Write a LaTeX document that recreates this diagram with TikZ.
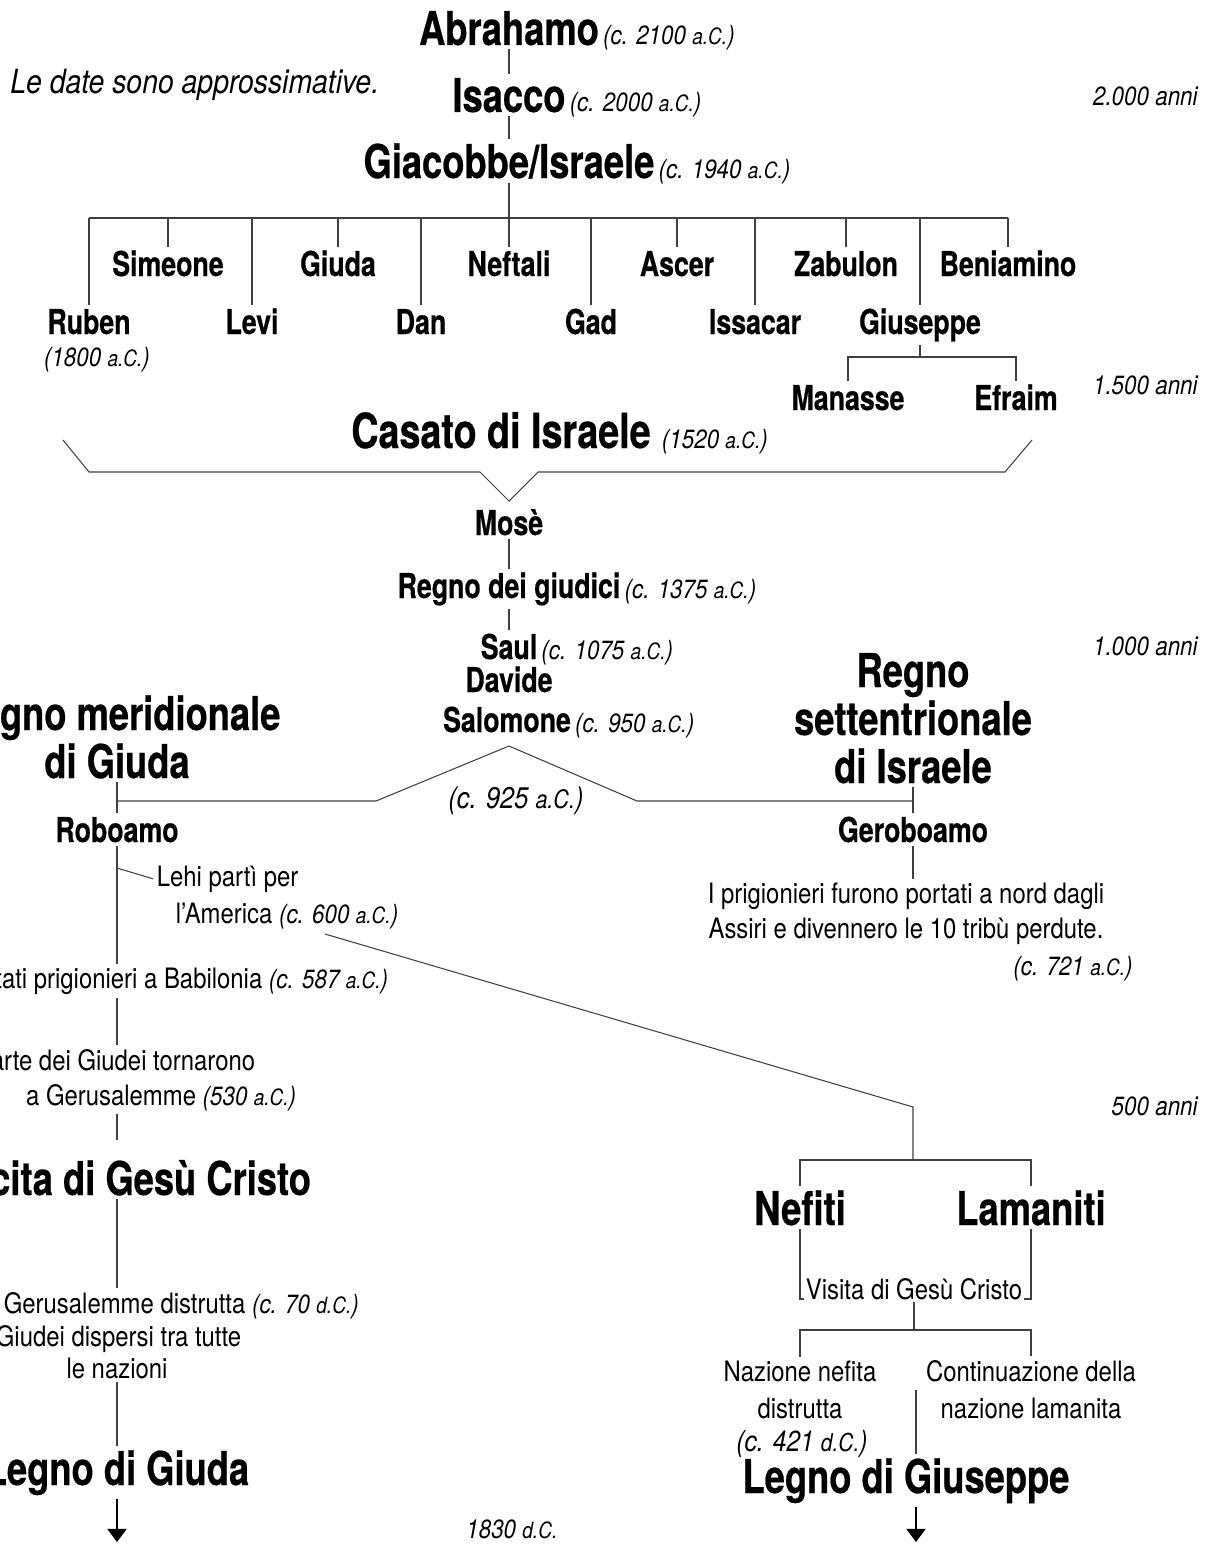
\documentclass[tikz,border=0pt]{standalone}
\usepackage{fontspec}
\setmainfont{TeX Gyre Heros}[FakeStretch=0.85,BoldFeatures={FakeStretch=0.78,FakeBold=0.5},BoldItalicFeatures={FakeStretch=0.78}]
\usetikzlibrary{arrows.meta}

\newcommand{\ac}[1]{\scalebox{0.85}{#1}}
\newcommand{\dtf}{\itshape\fontsize{15}{17}\selectfont}

\begin{document}
\begin{tikzpicture}[x=0.02cm, y=-0.02cm,
    big/.style={font=\bfseries\fontsize{26.5}{28}\selectfont, inner sep=2pt},
    mid/.style={font=\bfseries\fontsize{19.5}{22}\selectfont, inner sep=2pt},
    txt/.style={font=\fontsize{16}{19}\selectfont, inner sep=2pt},
    dat/.style={font=\dtf, inner sep=0pt, anchor=base west},
    yrs/.style={font=\dtf, inner sep=0pt, anchor=base east},
    ln/.style={draw=black!75, line width=0.6pt},
    arr/.style={draw=black, line width=0.6pt, -{Triangle[width=11pt,length=7.5pt]}}]
    \useasboundingbox (0,0) rectangle (1213,1548);

    % Patriarchs
    \node[big, anchor=base] (abr) at (509,45) {Abrahamo};
    \node[dat] (abrd) at (abr.base east) {(c. 2100 \ac{a.C.})};
    \node[big, anchor=base] (isa) at (509,112) {Isacco};
    \node[dat] (isad) at (isa.base east) {(c. 2000 \ac{a.C.})};
    \node[big, anchor=base] (jac) at (509,178) {Giacobbe/Israele};
    \node[dat] (jacd) at (jac.base east) {(c. 1940 \ac{a.C.})};
    \draw[ln] (abr) -- (isa);
    \draw[ln] (isa) -- (jac);

    \node[font=\itshape\fontsize{19}{22}\selectfont, anchor=base west, inner sep=0pt] (note) at (10,93) {Le date sono approssimative.};

    % Time scale
    \node[yrs] (y2000) at (1198,106) {2.000 anni};
    \node[yrs] (y1500) at (1198,394) {1.500 anni};
    \node[yrs] (y1000) at (1198,655) {1.000 anni};
    \node[yrs] (y500) at (1198,1115) {500 anni};
    \node[dat] (y1830) at (466,1538) {1830 \ac{d.C.}};

    % Twelve sons
    \coordinate (bar) at (0,218);
    \node[mid, anchor=base] (sim) at (168,276) {Simeone};
    \node[mid, anchor=base] (giuda) at (338,276) {Giuda};
    \node[mid, anchor=base] (neft) at (509,276) {Neftali};
    \node[mid, anchor=base] (asc) at (677,276) {Ascer};
    \node[mid, anchor=base] (zab) at (846,276) {Zabulon};
    \node[mid, anchor=base] (ben) at (1008,276) {Beniamino};
    \node[mid, anchor=base] (rub) at (89,334) {Ruben};
    \node[mid, anchor=base] (levi) at (252,334) {Levi};
    \node[mid, anchor=base] (dan) at (421,334) {Dan};
    \node[mid, anchor=base] (gad) at (591,334) {Gad};
    \node[mid, anchor=base] (iss) at (755,334) {Issacar};
    \node[mid, anchor=base] (gius) at (920,334) {Giuseppe};
    \node[font=\dtf, anchor=base, inner sep=0pt] (rubd) at (97,366) {(1800 \ac{a.C.})};
    \draw[ln] (jac) -- (jac |- bar);
    \draw[ln] (rub.north |- bar) -- (ben.north |- bar);
    \foreach \s in {rub,sim,levi,giuda,dan,neft,gad,asc,iss,zab,gius,ben}
        \draw[ln] (\s.north) -- (\s.north |- bar);

    % Sons of Joseph
    \coordinate (jbar) at (0,357);
    \node[mid, anchor=base] (man) at (848,410) {Manasse};
    \node[mid, anchor=base] (efr) at (1016,410) {Efraim};
    \draw[ln] (gius) -- (gius |- jbar);
    \draw[ln] (man.north) -- (man.north |- jbar) -- (efr.north |- jbar) -- (efr.north);

    % House of Israel
    \node[big, font=\bfseries\fontsize{27.5}{30}\selectfont, anchor=base] (cas) at (501,448) {Casato di Israele};
    \node[dat] (casd) at ([xshift=4pt]cas.base east) {(1520 \ac{a.C.})};
    \coordinate (apex) at (509,501);
    \draw[ln] (63,440) -- (89,472) -- (480,472) -- (apex) -- (538,472) -- (1005,472) -- (1032,440);

    % Judges and kings
    \node[mid, anchor=base] (mose) at (509,535) {Mosè};
    \node[mid, anchor=base] (giud) at (509,598) {Regno dei giudici};
    \node[dat] (giudd) at (giud.base east) {(c. 1375 \ac{a.C.})};
    \node[mid, anchor=base] (saul) at (509,659) {Saul};
    \node[dat] (sauld) at (saul.base east) {(c. 1075 \ac{a.C.})};
    \node[mid, anchor=base] (dav) at (509,692) {Davide};
    \node[mid, anchor=base] (salo) at (507,732) {Salomone};
    \node[dat] (salod) at (salo.base east) {(c. 950 \ac{a.C.})};
    \draw[ln] (mose) -- (giud);
    \draw[ln] (giud) -- (saul);

    % Divided kingdom
    \node[big, anchor=base] (merid1) at (117,730) {Regno meridionale};
    \node[big, anchor=base] (merid2) at (117,778) {di Giuda};
    \node[big, anchor=base] (sett1) at (913,687) {Regno};
    \node[big, anchor=base] (sett2) at (913,735) {settentrionale};
    \node[big, anchor=base] (sett3) at (913,783) {di Israele};
    \node[font=\itshape\fontsize{17}{19}\selectfont, anchor=base, inner sep=0pt] (split925) at (516,808) {(c. 925 \ac{a.C.})};
    \node[mid, anchor=base] (robo) at (117,842) {Roboamo};
    \node[mid, anchor=base] (gero) at (913,842) {Geroboamo};
    \coordinate (split) at (509,746);
    \coordinate (splitL) at (376,801);
    \coordinate (splitR) at (637,801);
    \draw[ln] (merid2) -- (robo);
    \draw[ln] (sett3) -- (gero);
    \draw[ln] (robo.north |- splitL) -- (splitL) -- (split) -- (splitR) -- (gero.north |- splitR);

    % Northern kingdom
    \node[txt, anchor=base] (prig1) at (906,903) {I prigionieri furono portati a nord dagli};
    \node[txt, anchor=base] (prig2) at (906,938) {Assiri e divennero le 10 tribù perdute.};
    \node[font=\dtf, anchor=base east, inner sep=0pt] (prigd) at (1133,975) {(c. 721 \ac{a.C.})};
    \draw[ln] (gero) -- (gero |- prig1.north);

    % Southern kingdom
    \coordinate (jx) at (117,0);
    \node[txt, anchor=base west] (lehi1) at (153,886) {Lehi partì per};
    \node[txt, anchor=base west] (lehi2) at (172,923) {l’America {\dtf (c. 600 \ac{a.C.})}};
    \coordinate (lroot) at (117,868);
    \draw[ln] (lroot) -- (lehi1.west);
    \node[txt, anchor=base east] (babil) at (392,988) {Portati prigionieri a Babilonia {\dtf (c. 587 \ac{a.C.})}};
    \node[txt, anchor=base east] (parte1) at (259,1070) {Parte dei Giudei tornarono};
    \node[txt, anchor=base east] (parte2) at (300,1105) {a Gerusalemme {\dtf (530 \ac{a.C.})}};
    \node[big, anchor=base] (nasc) at (117,1195) {Nascita di Gesù Cristo};
    \node[txt, anchor=base west] (geru1) at (0,1313) {Gerusalemme distrutta {\dtf (c. 70 \ac{d.C.})}};
    \node[txt, anchor=base west] (geru2) at (-8,1346) {Giudei dispersi tra tutte};
    \node[txt, anchor=base] (geru3) at (117,1378) {le nazioni};
    \node[big, anchor=base] (legJ) at (117,1485) {Legno di Giuda};
    \coordinate (tipJ) at (117,1542);
    \draw[ln] (robo) -- (jx |- babil.north);
    \draw[ln] (jx |- babil.south) -- (jx |- parte1.north);
    \draw[ln, shorten >=9pt] (jx |- parte2.south) -- (jx |- nasc.north);
    \draw[ln] (jx |- nasc.south) -- (jx |- geru1.north);
    \draw[ln] (geru3) -- (legJ);
    \draw[arr] (legJ) -- (tipJ);

    % Lehi's journey
    \coordinate (amer) at (325,934);
    \coordinate (turn) at (913,1107);
    \coordinate (nlbar) at (0,1160);
    \node[big, anchor=base] (nefi) at (800,1225) {Nefiti};
    \node[big, anchor=base] (lama) at (1031,1225) {Lamaniti};
    \draw[ln] (amer) -- (turn) -- (turn |- nlbar);
    \draw[ln] (nefi.north) -- (nefi.north |- nlbar) -- (lama.north |- nlbar) -- (lama.north);
    \node[txt, anchor=base, inner sep=1pt] (visita) at (914,1299) {Visita di Gesù Cristo};
    \draw[ln] (nefi) |- (visita.base west);
    \draw[ln] (lama) |- (visita.base east);

    \coordinate (vbar) at (0,1330);
    \node[txt, anchor=base] (naz1) at (800,1381) {Nazione nefita};
    \node[txt, anchor=base] (naz2) at (800,1418) {distrutta};
    \node[font=\itshape\fontsize{16.5}{19}\selectfont, anchor=base, inner sep=0pt] (nazd) at (802,1451) {(c. 421 \ac{d.C.})};
    \node[txt, anchor=base] (cont1) at (1031,1381) {Continuazione della};
    \node[txt, anchor=base] (cont2) at (1031,1418) {nazione lamanita};
    \draw[ln] (visita) -- (visita |- vbar);
    \draw[ln] (naz1.north) -- (naz1.north |- vbar) -- (cont1.north |- vbar) -- (cont1.north);

    \node[big, anchor=base] (legG) at (906,1493) {Legno di Giuseppe};
    \coordinate (midtop) at (916,1390);
    \coordinate (tipG) at (916,1542);
    \draw[ln] (midtop) -- (midtop |- legG.north);
    \draw[arr] (midtop |- legG.south) -- (tipG);
\end{tikzpicture}
\end{document}
